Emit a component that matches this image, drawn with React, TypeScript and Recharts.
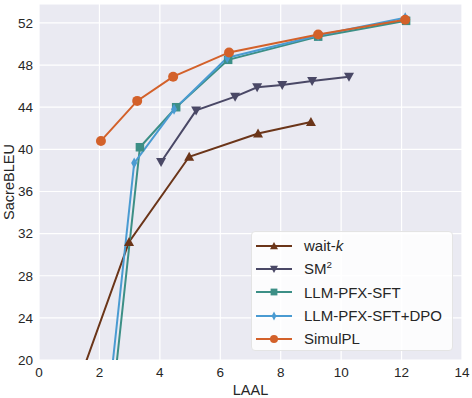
import { CartesianGrid, Label, Line, LineChart, XAxis, YAxis } from "recharts";

// LAAL (x) and SacreBLEU (y)
const waitkLaal = [1.0, 2.98, 4.97, 7.25, 9.0];
const waitkBleu = [15.4, 31.2, 39.3, 41.5, 42.6];

const sm2Laal = [4.04, 5.2, 6.49, 7.22, 8.05, 9.04, 10.26];
const sm2Bleu = [38.8, 43.7, 45.0, 45.9, 46.1, 46.5, 46.9];

const sftLaal = [2.45, 3.34, 4.54, 6.26, 9.24, 12.15];
const sftBleu = [16.5, 40.2, 44.0, 48.5, 50.7, 52.2];

const dpoLaal = [2.3, 3.15, 4.47, 6.23, 9.24, 12.12];
const dpoBleu = [16.0, 38.7, 43.8, 48.7, 50.8, 52.5];

const simulLaal = [2.05, 3.25, 4.44, 6.29, 9.24, 12.12];
const simulBleu = [40.8, 44.6, 46.9, 49.2, 50.9, 52.3];

const xTicks = [0, 2, 4, 6, 8, 10, 12, 14];
const yTicks = [20, 24, 28, 32, 36, 40, 44, 48, 52];

const FONT = "'Liberation Sans', Arial, sans-serif";
const TEXT = "#262626";

type Shape = "up" | "down" | "square" | "diamond" | "circle";

const series: {
	key: string;
	label: React.ReactNode;
	color: string;
	shape: Shape;
	data: { laal: number; bleu: number }[];
}[] = [
	{
		key: "waitk",
		label: (
			<>
				wait-<i>k</i>
			</>
		),
		color: "#6B3519",
		shape: "up",
		data: waitkLaal.map((x, i) => ({ laal: x, bleu: waitkBleu[i] })),
	},
	{
		key: "sm2",
		label: (
			<>
				SM<sup style={{ fontSize: "0.65em", verticalAlign: "0.6em", lineHeight: 0 }}>2</sup>
			</>
		),
		color: "#4A4866",
		shape: "down",
		data: sm2Laal.map((x, i) => ({ laal: x, bleu: sm2Bleu[i] })),
	},
	{
		key: "sft",
		label: "LLM-PFX-SFT",
		color: "#3C8F86",
		shape: "square",
		data: sftLaal.map((x, i) => ({ laal: x, bleu: sftBleu[i] })),
	},
	{
		key: "dpo",
		label: "LLM-PFX-SFT+DPO",
		color: "#4A9BD2",
		shape: "diamond",
		data: dpoLaal.map((x, i) => ({ laal: x, bleu: dpoBleu[i] })),
	},
	{
		key: "simul",
		label: "SimulPL",
		color: "#D3612A",
		shape: "circle",
		data: simulLaal.map((x, i) => ({ laal: x, bleu: simulBleu[i] })),
	},
];

function Marker({
	cx,
	cy,
	shape,
	color,
	r,
}: {
	cx: number;
	cy: number;
	shape: Shape;
	color: string;
	r: number;
}) {
	if (cx == null || cy == null || Number.isNaN(cx) || Number.isNaN(cy)) return null;
	switch (shape) {
		case "up":
			return (
				<polygon
					fill={color}
					points={`${cx},${cy - r} ${cx - r},${cy + r * 0.8} ${cx + r},${cy + r * 0.8}`}
				/>
			);
		case "down":
			return (
				<polygon
					fill={color}
					points={`${cx},${cy + r} ${cx - r},${cy - r * 0.8} ${cx + r},${cy - r * 0.8}`}
				/>
			);
		case "square":
			return <rect fill={color} height={r * 1.7} width={r * 1.7} x={cx - r * 0.85} y={cy - r * 0.85} />;
		case "diamond":
			return (
				<polygon
					fill={color}
					points={`${cx},${cy - r * 1.1} ${cx + r * 0.6},${cy} ${cx},${cy + r * 1.1} ${cx - r * 0.6},${cy}`}
				/>
			);
		default:
			return <circle cx={cx} cy={cy} fill={color} r={r} />;
	}
}

function LegendBox() {
	return (
		<div
			style={{
				position: "absolute",
				left: 251,
				top: 231,
				width: 202,
				height: 120,
				boxSizing: "border-box",
				background: "rgba(255,255,255,0.85)",
				border: "1px solid #e4e4e4",
				borderRadius: 4,
				paddingTop: 2,
				fontFamily: FONT,
				fontSize: 15,
				color: TEXT,
			}}
		>
			{series.map((s) => (
				<div key={s.key} style={{ display: "flex", alignItems: "center", height: 23.3 }}>
					<svg height={14} style={{ marginLeft: 4 }} width={36}>
						<line stroke={s.color} strokeWidth={2} x1={0} x2={36} y1={7} y2={7} />
						<Marker color={s.color} cx={18} cy={7} r={4} shape={s.shape} />
					</svg>
					<span style={{ marginLeft: 12 }}>{s.label}</span>
				</div>
			))}
		</div>
	);
}

export default function App() {
	return (
		<div style={{ position: "absolute", left: 0, top: 0, width: 472, height: 398 }}>
			<LineChart
				height={398}
				margin={{ top: 4, right: 10, bottom: 0, left: 0 }}
				style={{ fontFamily: FONT }}
				width={472}
			>
				<CartesianGrid fill="#EAEAF2" stroke="#ffffff" strokeWidth={1.2} />
				<XAxis
					allowDataOverflow
					axisLine={false}
					dataKey="laal"
					domain={[0, 14]}
					height={38}
					tick={{ fill: TEXT, fontSize: 13.5 }}
					tickLine={false}
					tickMargin={2}
					tickSize={5}
					ticks={xTicks}
					type="number"
				>
					<Label fill={TEXT} fontSize={14.5} offset={0} position="insideBottom" value="LAAL" dy={-3} />
				</XAxis>
				<YAxis
					allowDataOverflow
					axisLine={false}
					domain={[20, 53.8]}
					tick={{ fill: TEXT, fontSize: 13.5 }}
					tickLine={false}
					tickMargin={2}
					tickSize={4}
					ticks={yTicks}
					type="number"
					width={39}
				>
					<Label
						angle={-90}
						fill={TEXT}
						fontSize={14.5}
						position="insideLeft"
						value="SacreBLEU"
						style={{ textAnchor: "middle" }}
						dx={4}
					/>
				</YAxis>
				{series.map((s) => (
					<Line
						data={s.data}
						dataKey="bleu"
						dot={(p: any) => (
							<Marker
								color={s.color}
								cx={p.cx}
								cy={p.cy}
								key={`${s.key}-${p.index}`}
								r={5}
								shape={s.shape}
							/>
						)}
						isAnimationActive={false}
						key={s.key}
						stroke={s.color}
						strokeWidth={2}
						type="linear"
					/>
				))}
			</LineChart>
			<LegendBox />
		</div>
	);
}
